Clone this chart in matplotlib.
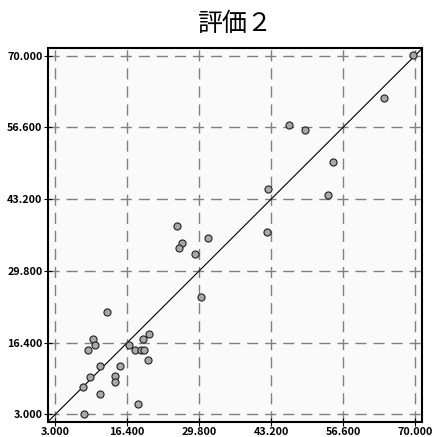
import matplotlib
matplotlib.use('Agg')
import matplotlib.pyplot as plt

plt.rcParams['font.family'] = ['Noto Sans CJK JP', 'DejaVu Sans']

title = '評価２'

ticks = [3.0, 16.4, 29.8, 43.2, 56.6, 70.0]
tick_labels = ['3.000', '16.400', '29.800', '43.200', '56.600', '70.000']
lims = (1.65, 71.35)

# observed vs predicted
xs = [30.2, 12.7, 10.1, 10.4, 9.1, 11.4, 15.0, 9.5, 14.2, 14.2, 8.2, 11.4, 8.3,
      18.5, 16.8, 17.9, 19.0, 19.6, 19.4, 20.4, 20.2,
      25.6, 26.6, 26.0, 29.1, 31.4,
      69.6, 64.2, 46.6, 49.6, 54.7, 42.6, 53.8, 42.4]
ys = [25.0, 22.1, 17.0, 16.0, 15.0, 12.1, 12.1, 10.0, 10.1, 9.0, 8.1, 6.9, 3.1,
      5.0, 16.0, 15.0, 15.0, 15.0, 17.0, 18.0, 13.1,
      38.1, 35.0, 34.0, 33.0, 36.0,
      70.1, 62.1, 57.1, 56.1, 50.1, 45.1, 44.0, 37.1]

fig = plt.figure(figsize=(4.35, 4.37), dpi=100)
ax = fig.add_axes([0.1103, 0.035, 0.8605, 0.8545])
ax.set_facecolor('#fafafa')

ax.set_xlim(*lims)
ax.set_ylim(*lims)

for t in ticks:
    ax.axvline(t, color='#808080', lw=1.0, dashes=(8, 5), zorder=1)
    ax.axhline(t, color='#808080', lw=1.0, dashes=(8, 5), zorder=1)

ax.plot(lims, lims, color='black', lw=0.8, zorder=2)
ax.scatter(xs, ys, s=26, facecolor='#a8a8a8', edgecolor='#202020',
           linewidth=0.8, zorder=3)

ax.set_xticks(ticks)
ax.set_yticks(ticks)
ax.set_xticklabels(tick_labels)
ax.set_yticklabels(tick_labels)
ax.tick_params(direction='inout', length=6, width=0.8, labelsize=7.8,
               pad=1, colors='black')
for lab in ax.get_xticklabels() + ax.get_yticklabels():
    lab.set_fontweight('bold')

for s in ax.spines.values():
    s.set_linewidth(1.5)

fig.text(0.54, 0.945, title, ha='center', va='center', fontsize=18)

fig.savefig('out.png', dpi=100)
